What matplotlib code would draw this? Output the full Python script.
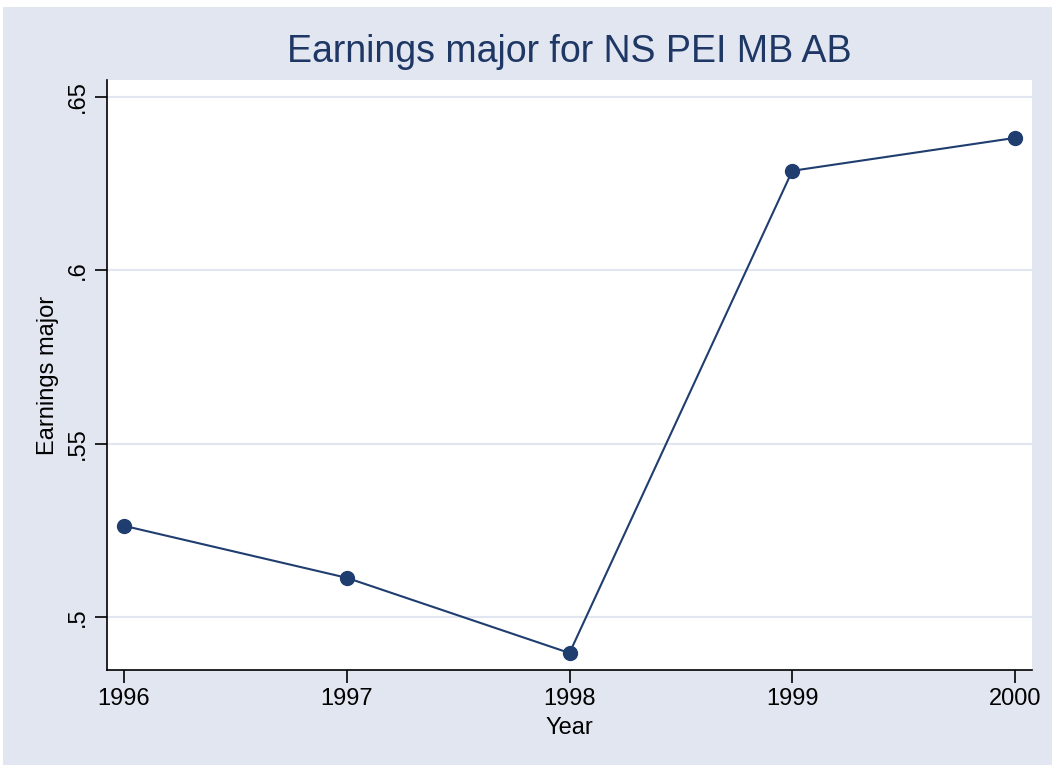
import matplotlib
matplotlib.use("Agg")
import matplotlib.pyplot as plt
from matplotlib.patches import Rectangle

years = [1996, 1997, 1998, 1999, 2000]
earnings = [0.5263, 0.5113, 0.4896, 0.6287, 0.6382]
yticks = [0.5, 0.55, 0.6, 0.65]
ytick_labels = [".5", ".55", ".6", ".65"]

plt.rcParams['font.family'] = ['Liberation Sans', 'DejaVu Sans']

W, H = 1056, 770
fig = plt.figure(figsize=(W/100, H/100), dpi=100)
fig.patch.set_facecolor('white')
bg = '#e1e6f0'
fig.patches.append(Rectangle((3/W, 5/H), (1052-3)/W, (763-5)/H, transform=fig.transFigure,
                             facecolor=bg, edgecolor='none', zorder=-10))

ax = fig.add_axes([107/W, 1 - 670/H, (1032-107)/W, (670-80)/H])
ax.set_facecolor('white')
line_color = '#1f3d6e'
ax.plot(years, earnings, color=line_color, lw=1.5, marker='o', markersize=10, zorder=3)

ax.set_xlim(1995.924, 2000.076)
ax.set_ylim(0.4847, 0.6549)
ax.set_xticks(years)
ax.set_xticklabels([str(y) for y in years])
ax.set_yticks(yticks)
ax.set_yticklabels(ytick_labels, rotation=90, va='center')
ax.grid(axis='y', color='#e1e6f0', lw=1.5)
ax.set_axisbelow(True)
for s in ['top', 'right']:
    ax.spines[s].set_visible(False)
for s in ['left', 'bottom']:
    ax.spines[s].set_color('black')
    ax.spines[s].set_linewidth(1.2)
ax.tick_params(axis='both', direction='out', length=9, width=1.2, labelsize=17, colors='black', pad=4)

ax.set_xlabel('Year', fontsize=17, labelpad=5)
ax.set_ylabel('Earnings major', fontsize=17, labelpad=6)
fig.text((107+1032)/2/W, 1 - 52/H, 'Earnings major for NS PEI MB AB', fontsize=27,
         color='#1e3764', ha='center', va='center')

fig.savefig('out.png', dpi=100, facecolor=fig.get_facecolor())
